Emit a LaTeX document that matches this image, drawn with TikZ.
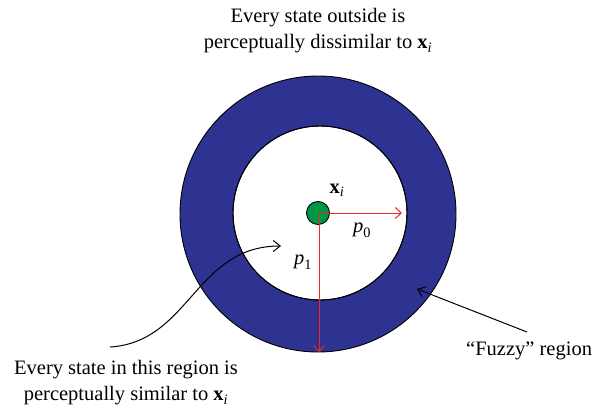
\documentclass[tikz,border=0pt]{standalone}
\usepackage{amsmath}
\usepackage{fontspec}
\setmainfont{Liberation Serif}
\usetikzlibrary{arrows.meta}
\definecolor{ringblue}{RGB}{46,51,145}
\definecolor{dotgreen}{RGB}{0,150,70}
\definecolor{arrred}{RGB}{235,40,40}
\newcommand{\myxi}{$\textbf{x}_{\text{\itshape i}}$}
\newcommand{\myp}[1]{$\text{\itshape p}_{\text{#1}}$}
\begin{document}
\begin{tikzpicture}[x=1pt,y=-1pt,
  lbl/.style={font=\fontsize{20.5}{26}\selectfont, align=center, inner sep=0pt},
  ptr/.style={-{Straight Barb[length=7pt,width=11pt]}, line width=1pt},
  redarr/.style={arrred, line width=1pt, -{Straight Barb[length=6pt,width=11pt]}}]
\useasboundingbox (0,0) rectangle (607,409);
% ring
\fill[ringblue, draw=black, line width=0.9pt, even odd rule] (318,214) circle (138) (320,213) circle (87);
\draw[black, line width=0.9pt] (320,213) circle (87);
% centre dot
\node[circle, fill=dotgreen, draw=black, line width=0.9pt, minimum size=23pt, inner sep=0pt] (xi) at (318,213) {};
\coordinate (c) at (319,213);
\coordinate (r0) at (402,213);
\coordinate (r1) at (319,352);
\draw[redarr] (c) -- (r0);
\draw[redarr] (c) -- (r1);
% labels
\node[lbl] (lxi) at (337,190) {\myxi};
\node[lbl] (lp0) at (362,230) {\myp{0}};
\node[lbl] (lp1) at (303,262) {\myp{1}};
\node[lbl] (top) at (318,31) {Every state outside is\\perceptually dissimilar to \myxi};
\node[lbl] (bot) at (126,383) {Every state in this region is\\perceptually similar to \myxi};
\node[lbl, anchor=west] (fuz) at (466,351) {``Fuzzy'' region};
% pointers
\coordinate (s1) at (110,347);
\coordinate (e1) at (281,246);
\draw[ptr] (s1) .. controls (190,342) and (195,246) .. (e1);
\coordinate (s2) at (527,332);
\coordinate (e2) at (417,289);
\draw[ptr] (s2) -- (e2);
\end{tikzpicture}
\end{document}
